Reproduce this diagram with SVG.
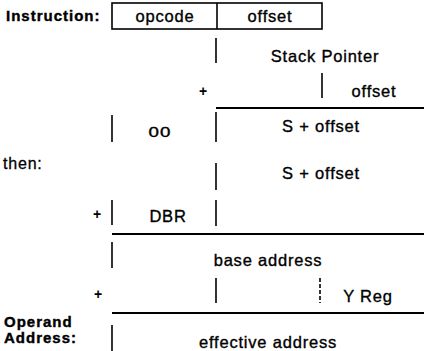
<svg xmlns="http://www.w3.org/2000/svg" width="424" height="351" viewBox="0 0 424 351">
<style>
.lbl{font-family:"Liberation Sans",Arial,sans-serif;font-size:15px;font-weight:bold;letter-spacing:1px;fill:#000;stroke:#000;stroke-width:0.4}
.t{font-family:"Liberation Sans",Arial,sans-serif;font-size:16.5px;letter-spacing:0.8px;fill:#000;stroke:#000;stroke-width:0.35;text-anchor:middle}
.pl{font-family:"Liberation Sans",Arial,sans-serif;font-size:14px;font-weight:bold;fill:#000;text-anchor:middle}
.v{stroke:#000;stroke-width:1.6;fill:none}
.h{stroke:#000;stroke-width:2;fill:none}
.d{stroke:#000;stroke-width:1.6;stroke-dasharray:4 2;fill:none}
</style>
<rect width="424" height="351" fill="#fff"/>
<g id="labels">
<text class="lbl" x="6" y="21">Instruction:</text>
<text class="lbl" x="3" y="169" style="font-weight:normal;font-size:16px;letter-spacing:0.8px;stroke-width:0.3">then:</text>
<text class="lbl" x="4" y="327">Operand</text>
<text class="lbl" x="4" y="343">Address:</text>
</g>
<g id="instruction">
<rect x="112" y="3" width="210" height="26" class="v"/>
<line x1="217" y1="3" x2="217" y2="29" class="v"/>
<text class="t" x="165" y="22">opcode</text>
<text class="t" x="270" y="22">offset</text>
</g>
<g id="stack-pointer"><text class="t" x="325" y="62">Stack Pointer</text></g>
<g id="offset"><text class="t" x="374" y="97">offset</text></g>
<g id="bank00"><text class="t" x="160" y="137" textLength="23" lengthAdjust="spacingAndGlyphs" style="font-size:14px">00</text></g>
<g id="s-offset-1"><text class="t" x="321" y="132">S + offset</text></g>
<g id="s-offset-2"><text class="t" x="321" y="179">S + offset</text></g>
<g id="dbr"><text class="t" x="168" y="222">DBR</text></g>
<g id="base-address"><text class="t" x="268" y="266">base address</text></g>
<g id="y-reg"><text class="t" x="368" y="302">Y Reg</text></g>
<g id="effective-address"><text class="t" x="268" y="348">effective address</text></g>
<g id="plus">
<text class="pl" x="203" y="96">+</text>
<text class="pl" x="97" y="219">+</text>
<text class="pl" x="98" y="299">+</text>
</g>
<g id="connectors">
<line x1="216" y1="38" x2="216" y2="63" class="v"/>
<line x1="322" y1="73" x2="322" y2="98" class="v"/>
<line x1="216" y1="108" x2="424" y2="108" class="h"/>
<line x1="112" y1="115" x2="112" y2="142" class="v"/>
<line x1="216" y1="112" x2="216" y2="142" class="v"/>
<line x1="216" y1="163" x2="216" y2="190" class="v"/>
<line x1="112" y1="200" x2="112" y2="225" class="v"/>
<line x1="216" y1="200" x2="216" y2="226" class="v"/>
<line x1="112" y1="234" x2="424" y2="234" class="h"/>
<line x1="112" y1="242" x2="112" y2="268" class="v"/>
<line x1="216" y1="278" x2="216" y2="303" class="v"/>
<line x1="320" y1="278" x2="320" y2="303" class="d"/>
<line x1="112" y1="313" x2="424" y2="313" class="h"/>
<line x1="112" y1="325" x2="112" y2="351" class="v"/>
</g>
</svg>
